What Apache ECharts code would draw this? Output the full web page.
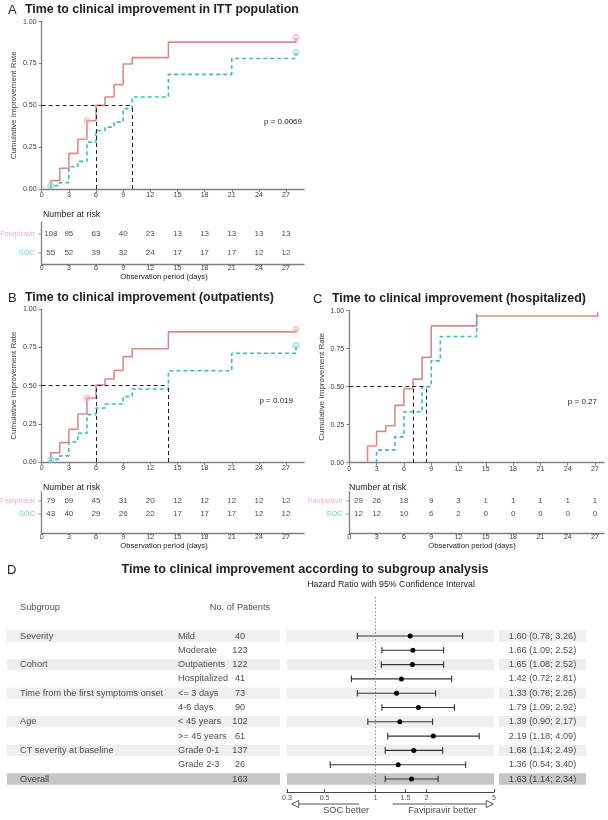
<!DOCTYPE html>
<html><head><meta charset="utf-8">
<script src="https://cdn.jsdelivr.net/npm/echarts@6/dist/echarts.min.js"></script>
<style>html,body{margin:0;padding:0;background:#fff}#c{width:608px;height:820px}</style>
</head><body><div id="c"></div>
<script>
// ================= DATA =================
const xTicks = [0,3,6,9,12,15,18,21,24,27];
const riskDays = [1,3,6,9,12,15,18,21,24,27];
const groupNames = ['Favipiravir','SOC'];

// Panel A (ITT)
const A_favDays = [1,2,3,4,5,6,7,8,9,10,14,28.1];
const A_favRate = [0.05,0.124,0.213,0.297,0.408,0.50,0.55,0.624,0.747,0.785,0.878,0.906];
const A_socDays = [1,2,3,4,5,6,7,8,9,10,14,21,28.1];
const A_socRate = [0.02,0.038,0.133,0.165,0.28,0.35,0.37,0.40,0.48,0.55,0.685,0.78,0.815];
const A_favCensor = [5,28.1];
const A_socCensor = [1,28.1];
const A_medianFav = 6, A_medianSoc = 10;
const A_riskFav = [108,95,63,40,23,13,13,13,13,13];
const A_riskSoc = [55,52,39,32,24,17,17,17,12,12];
const A_p = 'p = 0.0069';

// Panel B (outpatients)
const B_favDays = [1,2,3,4,5,6,7,8,9,10,14,28.1];
const B_favRate = [0.061,0.127,0.214,0.314,0.419,0.504,0.544,0.60,0.69,0.742,0.852,0.87];
const B_socDays = [1,2,3,4,5,6,7,9,10,14,21,28.1];
const B_socRate = [0.017,0.04,0.133,0.188,0.31,0.354,0.38,0.428,0.478,0.598,0.712,0.764];
const B_favCensor = [5,28.1];
const B_socCensor = [1,28.1];
const B_medianFav = 6, B_medianSoc = 14;
const B_riskFav = [79,69,45,31,20,12,12,12,12,12];
const B_riskSoc = [43,40,29,26,22,17,17,17,12,12];
const B_p = 'p = 0.019';

// Panel C (hospitalized)
const C_favDays = [2,3,4,5,6,7,8,9,14,27.3];
const C_favRate = [0.11,0.206,0.243,0.377,0.487,0.55,0.693,0.90,0.965,0.99];
const C_socDays = [3,5,6,8,9,10,14];
const C_socRate = [0.083,0.17,0.335,0.5,0.67,0.83,1.0];
const C_favCensor = [];
const C_socCensor = [];
const C_medianFav = 7, C_medianSoc = 8.5;
const C_riskFav = [29,26,18,9,3,1,1,1,1,1];
const C_riskSoc = [12,12,10,6,2,0,0,0,0,0];
const C_p = 'p = 0.27';

// Panel D (forest)
const subgroups = ['Severity','','Cohort','','Time from the first symptoms onset','','Age','','CT severity at baseline','','Overall'];
const levels = ['Mild','Moderate','Outpatients','Hospitalized','<= 3 days','4-6 days','< 45 years','>= 45 years','Grade 0-1','Grade 2-3',''];
const nPatients = [40,123,122,41,73,90,102,61,137,26,163];
const hrEst = [1.60,1.66,1.65,1.42,1.33,1.79,1.39,2.19,1.68,1.36,1.63];
const hrLow = [0.78,1.09,1.08,0.72,0.78,1.09,0.90,1.18,1.14,0.54,1.14];
const hrHigh = [3.26,2.52,2.52,2.81,2.26,2.92,2.17,4.09,2.49,3.40,2.34];
const hrTicks = [0.3,0.5,1,1.5,2,5];

// ================= STYLE =================
function hasFont(name){
  const c=document.createElement('canvas').getContext('2d');
  c.font='20px monospace'; const a=c.measureText('abcdefghijklmnopWWW').width;
  c.font='20px "'+name+'", monospace'; return c.measureText('abcdefghijklmnopWWW').width!==a;
}
const NARROW = hasFont('Liberation Sans Narrow');
const FF = NARROW ? '"Liberation Sans Narrow","Liberation Sans",Arial,sans-serif' : '"Liberation Sans",Arial,sans-serif';
const K = NARROW ? 1 : 0.84;
const fs = n => Math.round(n*K*10)/10;
const FAV = '#d98b8b', SOC = '#3cbcbc';
const FAV_LBL = '#e5a3a3', SOC_LBL = '#45c2c2';
const AX = '#7f7f7f', TXT = '#222';

const grid=[], xAxis=[], yAxis=[], series=[], graphic=[];
function addGrid(l,t,w,h){grid.push({left:l,top:t,width:w,height:h,containLabel:false,outerBoundsMode:'none'});return grid.length-1;}
function T(text,x,y,size,o){o=o||{};graphic.push({type:'text',x:x,y:y,silent:true,style:{text:text,fill:o.color||'#222',fontSize:size,fontFamily:FF,fontWeight:o.bold?'bold':'normal',align:o.align||'left',verticalAlign:'middle'}});}

function stepData(days,rate){const d=[[days[0],0]];days.forEach((t,i)=>d.push([t,rate[i]]));return d;}
function rateAt(days,rate,t){let r=0;days.forEach((d,i)=>{if(d<=t)r=rate[i];});return r;}

function kmAxes(gi,xMax){
  xAxis.push({type:'value',gridIndex:gi,min:0,max:xMax,
    axisLine:{onZero:false,lineStyle:{color:AX,width:1.3}},
    axisTick:{customValues:xTicks,length:3,lineStyle:{color:AX}},
    axisLabel:{customValues:xTicks,fontSize:fs(8.5),color:'#444',margin:3,fontFamily:FF},
    splitLine:{show:false}});
  yAxis.push({type:'value',gridIndex:gi,min:0,max:1,interval:0.25,
    axisLine:{show:true,onZero:false,lineStyle:{color:AX,width:1.3}},
    axisTick:{show:true,length:3,lineStyle:{color:AX}},
    axisLabel:{formatter:v=>v.toFixed(2),fontSize:fs(8.5),color:'#444',margin:5,fontFamily:FF},
    splitLine:{show:false},
    name:'Cumulative Improvement Rate',nameLocation:'middle',nameGap:24,
    nameTextStyle:{fontSize:fs(9.5),color:'#444',fontFamily:FF}});
}
function kmPanel(gi,axIdx,fd,fr,sd,sr,fc,sc,mf,ms){
  series.push({type:'line',xAxisIndex:axIdx,yAxisIndex:axIdx,step:'end',showSymbol:false,symbol:'none',
    data:stepData(fd,fr),lineStyle:{color:FAV,width:1.6},z:3,
    markLine:{silent:true,symbol:['none','none'],animation:false,label:{show:false},
      lineStyle:{color:'#222',type:[4,3],width:1},
      data:[[{coord:[0,0.5]},{coord:[Math.max(mf,ms),0.5]}],
            [{coord:[mf,0]},{coord:[mf,0.5]}],
            [{coord:[ms,0]},{coord:[ms,0.5]}]]}});
  series.push({type:'line',xAxisIndex:axIdx,yAxisIndex:axIdx,step:'end',showSymbol:false,symbol:'none',
    data:stepData(sd,sr),lineStyle:{color:SOC,width:1.6,type:[4,3]},z:3});
  series.push({type:'scatter',xAxisIndex:axIdx,yAxisIndex:axIdx,symbol:'circle',symbolSize:6,z:4,
    data:fc.map(t=>[t,rateAt(fd,fr,t)]),itemStyle:{color:'rgba(240,180,180,0.5)',borderColor:'#f0b0b0',borderWidth:1}});
  series.push({type:'scatter',xAxisIndex:axIdx,yAxisIndex:axIdx,symbol:'circle',symbolSize:6,z:4,
    data:sc.map(t=>[t,rateAt(sd,sr,t)]),itemStyle:{color:'rgba(150,220,220,0.5)',borderColor:'#7fd4d4',borderWidth:1}});
}
function riskPanel(gi,axIdx,xMax,top,bottom,favPx,socPx,favN,socN){
  const u = socPx-favPx;
  xAxis.push({type:'value',gridIndex:gi,min:0,max:xMax,
    axisLine:{onZero:false,lineStyle:{color:AX,width:1.3}},
    axisTick:{customValues:xTicks,length:2,lineStyle:{color:AX}},
    axisLabel:{customValues:xTicks,fontSize:fs(8.5),color:'#444',margin:1,fontFamily:FF},
    splitLine:{show:false}});
  yAxis.push({type:'value',gridIndex:gi,min:-(bottom-socPx)/u,max:1+(favPx-top)/u,
    axisLine:{show:true,onZero:false,lineStyle:{color:AX,width:1.3}},axisTick:{show:false},axisLabel:{show:false},splitLine:{show:false}});
  [[favN,1],[socN,0]].forEach(([arr,row])=>{
    series.push({type:'scatter',xAxisIndex:axIdx,yAxisIndex:axIdx,symbolSize:1,itemStyle:{color:'rgba(0,0,0,0)'},
      data:riskDays.map(d=>[d,row]),
      label:{show:true,position:'inside',formatter:p=>String(arr[p.dataIndex]),fontSize:fs(9.5),color:TXT,fontFamily:FF}});
  });
  series.push({type:'scatter',xAxisIndex:axIdx,yAxisIndex:axIdx,symbol:'rect',symbolSize:[3,1],symbolOffset:[-2,0],
    itemStyle:{color:AX},
    data:[{value:[0,1],label:{color:FAV_LBL}},{value:[0,0],label:{color:SOC_LBL}}],
    label:{show:true,position:'left',distance:3,fontSize:fs(9),fontFamily:FF,formatter:p=>groupNames[p.dataIndex]}});
}

// ---------- Panel A ----------
const DAY_A = 9.05;
const gA = addGrid(41.7,21.7,29*DAY_A,167.3); kmAxes(gA,29); kmPanel(gA,xAxis.length-1,A_favDays,A_favRate,A_socDays,A_socRate,A_favCensor,A_socCensor,A_medianFav,A_medianSoc);
const gAr = addGrid(41.7,222,29*DAY_A,42); riskPanel(gAr,xAxis.length,29,222,264,234,253,A_riskFav,A_riskSoc);
// ---------- Panel B ----------
const gB = addGrid(41.7,309.3,29*DAY_A,152.7); kmAxes(gB,29); kmPanel(gB,xAxis.length-1,B_favDays,B_favRate,B_socDays,B_socRate,B_favCensor,B_socCensor,B_medianFav,B_medianSoc);
const gBr = addGrid(41.7,492,29*DAY_A,41); riskPanel(gBr,xAxis.length,29,492,533,501,514,B_riskFav,B_riskSoc);
// ---------- Panel C ----------
const DAY_C = 9.1;
const gC = addGrid(349.3,310.7,28*DAY_C,152); kmAxes(gC,28); kmPanel(gC,xAxis.length-1,C_favDays,C_favRate,C_socDays,C_socRate,C_favCensor,C_socCensor,C_medianFav,C_medianSoc);
const gCr = addGrid(349.3,492,28*DAY_C,41); riskPanel(gCr,xAxis.length,28,492,533,501,514,C_riskFav,C_riskSoc);

// ---------- Panel D (forest) ----------
const F_TOP=597, F_BOT=792, ROW0=636, ROWH=14.3;
const yMinF=(F_TOP-ROW0)/ROWH, yMaxF=(F_BOT-ROW0)/ROWH;
const rowOf = px => (px-ROW0)/ROWH;
const bandRows = []; subgroups.forEach((s,i)=>{ if(s) bandRows.push(i); });
function forestY(gi){yAxis.push({type:'value',gridIndex:gi,min:yMinF,max:yMaxF,inverse:true,show:false});}
function bandSeries(axIdx,x0,x1){
  series.push({type:'custom',xAxisIndex:axIdx,yAxisIndex:axIdx,z:1,silent:true,
    data:bandRows.map(i=>[i]),encode:{y:0},
    renderItem:(params,api)=>{
      const i=api.value(0), last=(i===subgroups.length-1);
      const a=api.coord([x0,i-0.4]), b=api.coord([x1,i+0.4]);
      return {type:'rect',shape:{x:Math.min(a[0],b[0]),y:Math.min(a[1],b[1]),width:Math.abs(b[0]-a[0]),height:Math.abs(b[1]-a[1])},
        style:{fill:last?'#c6c6c6':'#efefef'}};
    }});
}
function textSeries(axIdx,x,rows,texts,pos){
  series.push({type:'scatter',xAxisIndex:axIdx,yAxisIndex:axIdx,symbolSize:0.1,z:5,itemStyle:{color:'rgba(0,0,0,0)'},
    data:rows.map(r=>[x,r]),
    label:{show:true,position:pos,distance:0,formatter:p=>texts[p.dataIndex],fontSize:fs(11),color:TXT,fontFamily:FF}});
}
const rowsAll = subgroups.map((s,i)=>i);
// left table
const gL = addGrid(7,F_TOP,273,F_BOT-F_TOP);
xAxis.push({type:'value',gridIndex:gL,min:0,max:273,show:false}); forestY(gL);
let ax = xAxis.length-1;
bandSeries(ax,0,273);
textSeries(ax,13,rowsAll,subgroups,'right');
textSeries(ax,171,rowsAll,levels,'right');
textSeries(ax,233,rowsAll,nPatients.map(String),'inside');
textSeries(ax,13,[rowOf(607)],['Subgroup'],'right');
textSeries(ax,233,[rowOf(607)],['No. of Patients'],'inside');
// forest plot
const gF = addGrid(287,F_TOP,207,F_BOT-F_TOP);
xAxis.push({type:'log',gridIndex:gF,min:0.3,max:5,logBase:10,
  axisLine:{show:true,onZero:false,lineStyle:{color:'#444',width:1}},
  axisTick:{show:true,customValues:hrTicks,inside:true,length:3,lineStyle:{color:'#444'}},
  axisLabel:{customValues:hrTicks,formatter:v=>String(+v.toFixed(2)),fontSize:fs(8.5),color:'#555',margin:3,fontFamily:FF},
  splitLine:{show:false},minorTick:{show:false}});
forestY(gF); ax = xAxis.length-1;
bandSeries(ax,0.3,5);
series.push({type:'custom',xAxisIndex:ax,yAxisIndex:ax,z:4,
  data:hrEst.map((h,i)=>[i,h,hrLow[i],hrHigh[i]]),encode:{y:0,x:[1,2,3]},
  renderItem:(params,api)=>{
    const i=api.value(0);
    const pH=api.coord([api.value(1),i]), pL=api.coord([api.value(2),i]), pU=api.coord([api.value(3),i]);
    const st={stroke:'#333',lineWidth:1.1}, c=3.3;
    return {type:'group',children:[
      {type:'line',shape:{x1:pL[0],y1:pL[1],x2:pU[0],y2:pU[1]},style:st},
      {type:'line',shape:{x1:pL[0],y1:pL[1]-c,x2:pL[0],y2:pL[1]+c},style:st},
      {type:'line',shape:{x1:pU[0],y1:pU[1]-c,x2:pU[0],y2:pU[1]+c},style:st},
      {type:'circle',shape:{cx:pH[0],cy:pH[1],r:2.5},style:{fill:'#000'}}]};
  },
  markLine:{silent:true,symbol:['none','none'],animation:false,label:{show:false},
    lineStyle:{color:'#888',type:[1.5,2],width:1},data:[[{coord:[1,yMinF]},{coord:[1,rowOf(789)]}]]}});
// right text
const gR = addGrid(499,F_TOP,87,F_BOT-F_TOP);
xAxis.push({type:'value',gridIndex:gR,min:0,max:87,show:false}); forestY(gR); ax=xAxis.length-1;
bandSeries(ax,0,87);
textSeries(ax,43.5,rowsAll,hrEst.map((h,i)=>h.toFixed(2)+' ('+hrLow[i].toFixed(2)+'; '+hrHigh[i].toFixed(2)+')'),'inside');
// arrows
const gAr2 = addGrid(287,798,207,16);
xAxis.push({type:'log',gridIndex:gAr2,min:0.3,max:5,show:false}); yAxis.push({type:'value',gridIndex:gAr2,min:0,max:1,show:false}); ax=xAxis.length-1;
const arrowDefs=[[0.80,0.32,0.67,'SOC better'],[1.26,4.95,2.48,'Favipiravir better']];
series.push({type:'custom',xAxisIndex:ax,yAxisIndex:ax,z:4,silent:true,
  data:arrowDefs.map(a=>[a[0],a[1]]),encode:{x:[0,1]},
  renderItem:(params,api)=>{
    const p0=api.coord([api.value(0),0.625]), p1=api.coord([api.value(1),0.625]);
    const dir=p1[0]>p0[0]?1:-1, L=7, H=3.5;
    const st={stroke:'#555',lineWidth:1,fill:'#fff'};
    return {type:'group',children:[
      {type:'line',shape:{x1:p0[0],y1:p0[1],x2:p1[0]-dir*L,y2:p1[1]},style:{stroke:'#555',lineWidth:1}},
      {type:'polygon',shape:{points:[[p1[0],p1[1]],[p1[0]-dir*L,p1[1]-H],[p1[0]-dir*L,p1[1]+H]]},style:st}]};
  }});
series.push({type:'scatter',xAxisIndex:ax,yAxisIndex:ax,symbolSize:0.1,itemStyle:{color:'rgba(0,0,0,0)'},
  data:arrowDefs.map(a=>[a[2],0.19]),
  label:{show:true,position:'inside',formatter:p=>arrowDefs[p.dataIndex][3],fontSize:fs(11),color:TXT,fontFamily:FF}});

// ---------- texts ----------
T('A',8,10,13); T('Time to clinical improvement in ITT population',25,10,fs(14.8),{bold:true});
T(A_p,302,122,fs(9.5),{align:'right'});
T('Number at risk',43,215,fs(10.5));
T('Observation period (days)',164,277,fs(9),{align:'center'});
T('B',8,298,13); T('Time to clinical improvement (outpatients)',25,298,fs(14.8),{bold:true});
T(B_p,293,401,fs(9.5),{align:'right'});
T('Number at risk',43,488,fs(10.5));
T('Observation period (days)',164,546,fs(9),{align:'center'});
T('C',313,299,13); T('Time to clinical improvement (hospitalized)',332,299,fs(14.8),{bold:true});
T(C_p,597,402,fs(9.5),{align:'right'});
T('Number at risk',349,488,fs(10.5));
T('Observation period (days)',472,546,fs(9),{align:'center'});
T('D',7,570,13); T('Time to clinical improvement according to subgroup analysis',305,570,fs(15),{bold:true,align:'center'});
T('Hazard Ratio with 95% Confidence Interval',391,585,fs(10.5),{align:'center'});

const chart = echarts.init(document.getElementById('c'),null,{renderer:'canvas',width:608,height:820});
chart.setOption({animation:false,backgroundColor:'#fff',textStyle:{fontFamily:FF},grid,xAxis,yAxis,series,graphic});
</script></body></html>
